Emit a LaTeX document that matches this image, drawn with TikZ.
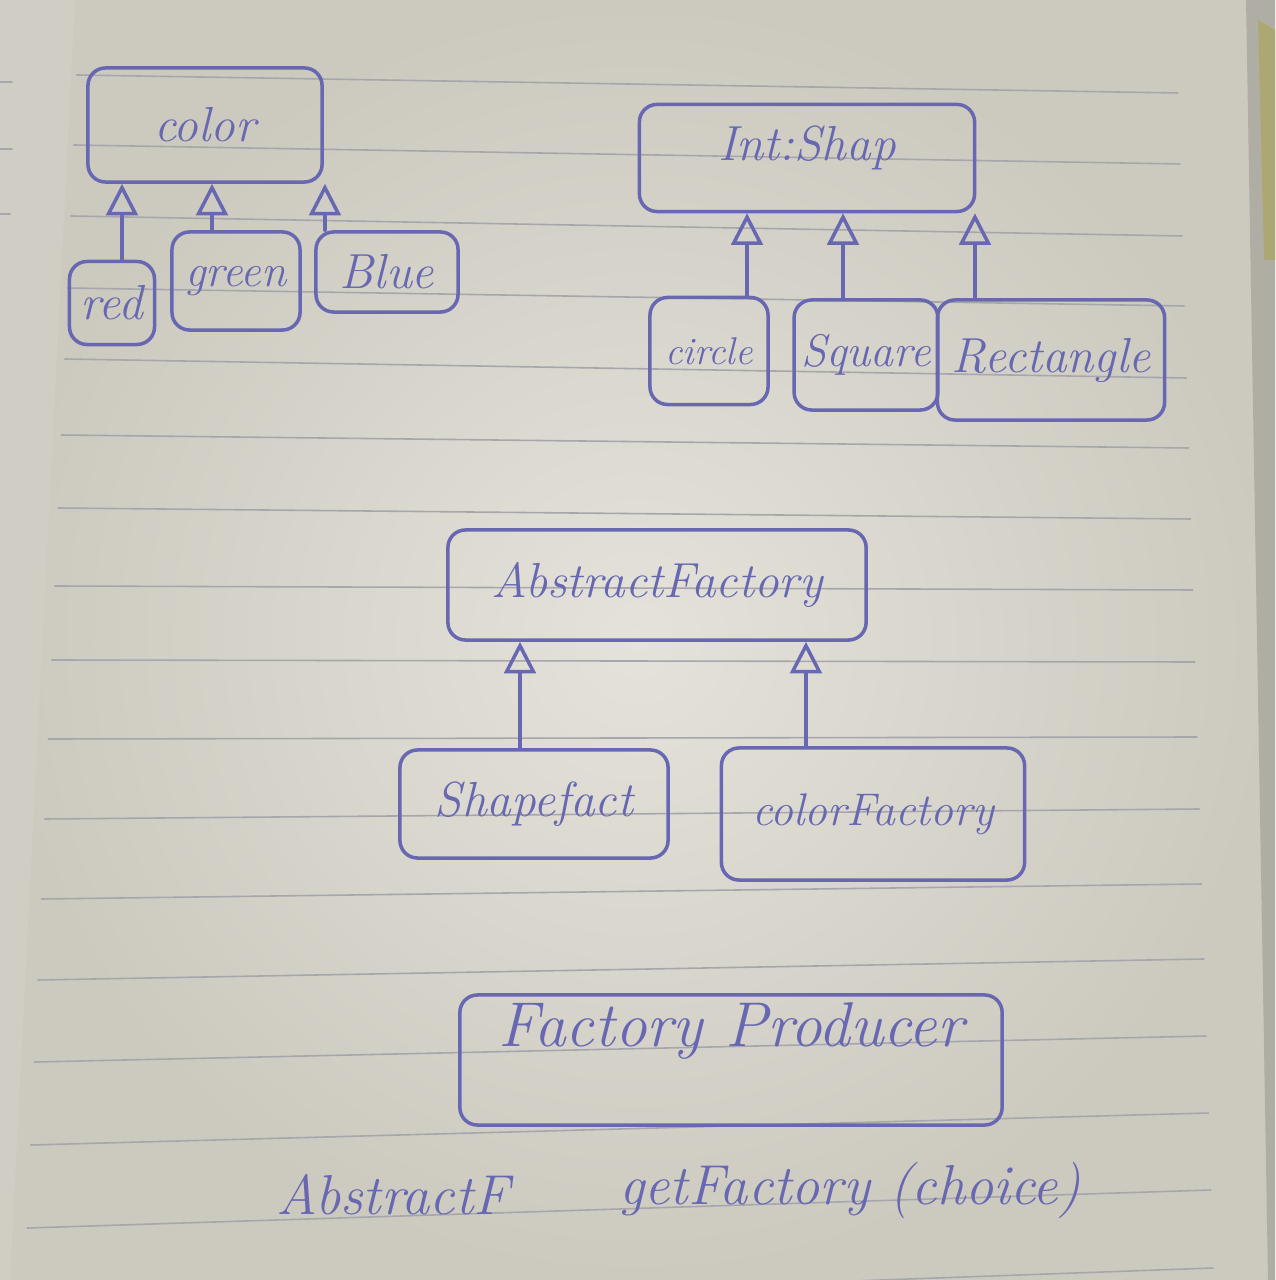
\documentclass[tikz,border=0pt]{standalone}
\usepackage{tikz}
\usetikzlibrary{arrows.meta}
\usetikzlibrary{positioning}
\definecolor{ink}{RGB}{104,104,178}
\definecolor{paperlight}{RGB}{228,226,218}
\definecolor{paperdark}{RGB}{204,201,191}
\definecolor{guttercol}{RGB}{208,205,196}
\definecolor{edgecol}{RGB}{176,174,164}
\definecolor{rulecol}{RGB}{166,166,172}

\begin{document}
\begin{tikzpicture}[line cap=round,line join=round,x=0.01cm,y=-0.01cm,
  box/.style={draw=ink,line width=1pt,rounded corners=5pt,text=ink,inner sep=2pt,
    font=\fontsize{14}{16}\selectfont\itshape},
  inherit/.style={draw=ink,line width=1pt,-{Triangle[open,length=9pt,width=9pt]}},
  ruled/.style={draw=rulecol,line width=0.45pt},
  hand/.style={text=ink,font=\fontsize{16}{18}\selectfont\itshape}]
\useasboundingbox (0,0) rectangle (1275,1280);
\clip (0,0) rectangle (1275,1280);
% paper
\shade[inner color=paperlight,outer color=paperdark] (0,0) rectangle (1275,1280);
\fill[guttercol] (0,0) -- (75,0) -- (10,1280) -- (0,1280) -- cycle;
\fill[edgecol] (1246,0) -- (1275,0) -- (1275,1280) -- (1268,1280) -- cycle;
\fill[olive!30!edgecol] (1258,20) -- (1275,30) -- (1275,260) -- (1264,260) -- cycle;
\foreach \yl/\yr in {75/93,145/164,216/236,288/306,359/378,435/448,508/519,586/590,
  660/662,739/737,819/809,899/884,980/959,1062/1036,1145/1113,1228/1190,1311/1268}
  \draw[ruled] ({80-0.043*\yl},\yl) -- ({1175+0.03*\yr},\yr);
\draw[ruled] (0,82) -- (12,82);
\draw[ruled] (0,149) -- (12,149);
\draw[ruled] (0,214) -- (10,214);

% colours
\node[box,minimum width=2.34cm,minimum height=1.14cm] (color) at (205,125) {color};
\node[box,minimum width=0.85cm,minimum height=0.83cm] (red) at (112,303) {red};
\node[box,minimum width=1.28cm,minimum height=0.98cm,font=\fontsize{13}{15}\selectfont\itshape] (green) at (236,281) {green};
\node[box,minimum width=1.42cm,minimum height=0.80cm] (blue) at (387,272) {Blue};
\draw[inherit] ([xshift=0.10cm]red.north) -- ([xshift=0.10cm]red.north |- color.south);
\draw[inherit] ([xshift=-0.24cm]green.north) -- ([xshift=-0.24cm]green.north |- color.south);
\draw[inherit] ([xshift=-0.62cm]blue.north) -- ([xshift=-0.62cm]blue.north |- color.south);

% shapes
\node[box,minimum width=3.35cm,minimum height=1.07cm,text depth=0.3cm] (shape) at (807,158) {Int:Shap};
\node[box,minimum width=1.18cm,minimum height=1.07cm,font=\fontsize{11}{13}\selectfont\itshape] (circle) at (709,351) {circle};
\node[box,minimum width=1.38cm,minimum height=1.10cm,font=\fontsize{13}{15}\selectfont\itshape] (square) at (866,355) {Square};
\node[box,minimum width=2.27cm,minimum height=1.20cm] (rectangle) at (1051,360) {Rectangle};
\draw[inherit] ([xshift=0.38cm]circle.north) -- ([xshift=0.38cm]circle.north |- shape.south);
\draw[inherit] ([xshift=-0.23cm]square.north) -- ([xshift=-0.23cm]square.north |- shape.south);
\draw[inherit] ([xshift=-0.76cm]rectangle.north) -- ([xshift=-0.76cm]rectangle.north |- shape.south);

% factories
\node[box,minimum width=4.18cm,minimum height=1.10cm] (abstract) at (657,585) {AbstractFactory};
\node[box,minimum width=2.68cm,minimum height=1.08cm] (shapefact) at (534,804) {Shapefact};
\node[box,minimum width=3.03cm,minimum height=1.32cm,font=\fontsize{13}{15}\selectfont\itshape] (colorfact) at (873,814) {colorFactory};
\draw[inherit] ([xshift=-0.14cm]shapefact.north) -- ([xshift=-0.14cm]shapefact.north |- abstract.south);
\draw[inherit] ([xshift=-0.67cm]colorfact.north) -- ([xshift=-0.67cm]colorfact.north |- abstract.south);

% producer
\node[box,minimum width=5.42cm,minimum height=1.30cm,text depth=0.7cm,
  font=\fontsize{18}{20}\selectfont\itshape] (producer) at (731,1060) {Factory Producer};
\node[hand] (rettype) at (393,1195) {AbstractF};
\node[hand] (getfact) at (850,1190) {getFactory (choice)};
\end{tikzpicture}
\end{document}
